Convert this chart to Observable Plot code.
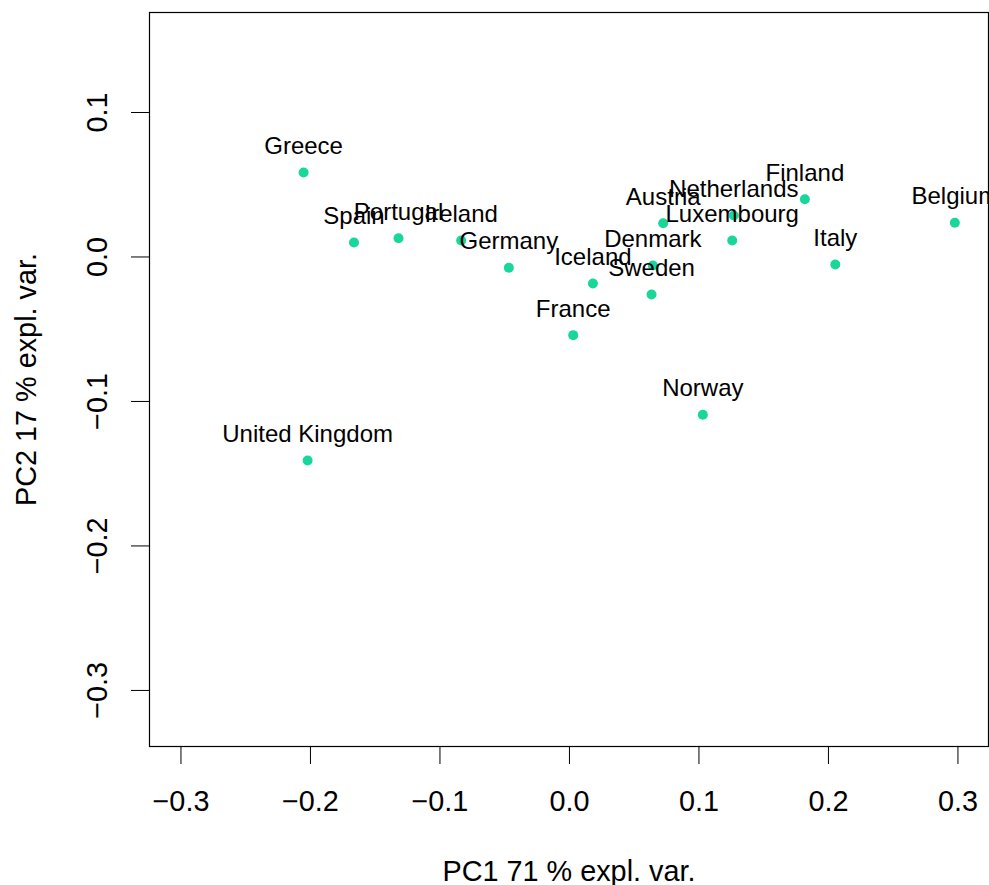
<!DOCTYPE html>
<html><head><meta charset="utf-8">
<script src="https://cdn.jsdelivr.net/npm/d3@7"></script>
<script src="https://cdn.jsdelivr.net/npm/@observablehq/plot@0.6"></script>
<style>html,body{margin:0;padding:0;background:#fff;overflow:hidden;}</style>
</head><body><div id="chart"></div>
<script>
const countries = ["Greece","Spain","Portugal","Ireland","Germany","Iceland","France","United Kingdom","Denmark","Sweden","Austria","Netherlands","Luxembourg","Finland","Italy","Belgium","Norway"];
const pc1 = [-0.2053,-0.1664,-0.1320,-0.0836,-0.0468,0.0181,0.0029,-0.2022,0.0644,0.0634,0.0724,0.1269,0.1257,0.1818,0.2053,0.2976,0.1030];
const pc2 = [0.0585,0.0100,0.0130,0.0114,-0.0075,-0.0183,-0.0541,-0.1408,-0.0059,-0.0260,0.0234,0.0287,0.0114,0.0400,-0.0052,0.0237,-0.1092];
const xTicks = [-0.3,-0.2,-0.1,0,0.1,0.2,0.3];
const yTicks = [-0.3,-0.2,-0.1,0,0.1];
const xLabel = "PC1 71 % expl. var.";
const yLabel = "PC2 17 % expl. var.";

const data = countries.map((c, i) => ({country: c, pc1: pc1[i], pc2: pc2[i]}));
const fmt = d3.format(".1f");
const font = "Liberation Sans, Arial, Helvetica, sans-serif";

const chart = Plot.plot({
  width: 989, height: 885,
  marginLeft: 149, marginRight: 1, marginTop: 12, marginBottom: 139,
  style: {fontFamily: font, background: "#fff", color: "#000", overflow: "hidden"},
  x: {domain: [-0.3243, 0.3236]},
  y: {domain: [-0.3388, 0.1692]},
  marks: [
    Plot.frame({stroke: "#000", strokeWidth: 1.2}),
    Plot.axisX({ticks: xTicks, tickSize: 18, tickPadding: 26, fontSize: 28.8, tickFormat: fmt,
      label: xLabel, labelAnchor: "center", labelOffset: 134, labelArrow: "none", stroke: "#000", fill: "#000"}),
    Plot.axisY({ticks: yTicks, tickSize: 18, tickPadding: 25, tickRotate: -90, fontSize: 28.8, tickFormat: fmt,
      label: yLabel, labelAnchor: "center", labelOffset: 134, labelArrow: "none", stroke: "#000", fill: "#000"}),
    Plot.dot(data, {x: "pc1", y: "pc2", r: 5, fill: "#19d69b", stroke: null}),
    Plot.text(data, {x: "pc1", y: "pc2", text: "country", dy: -26, fontSize: 24, fill: "#000"})
  ]
});
document.getElementById("chart").appendChild(chart);
</script>
</body></html>
